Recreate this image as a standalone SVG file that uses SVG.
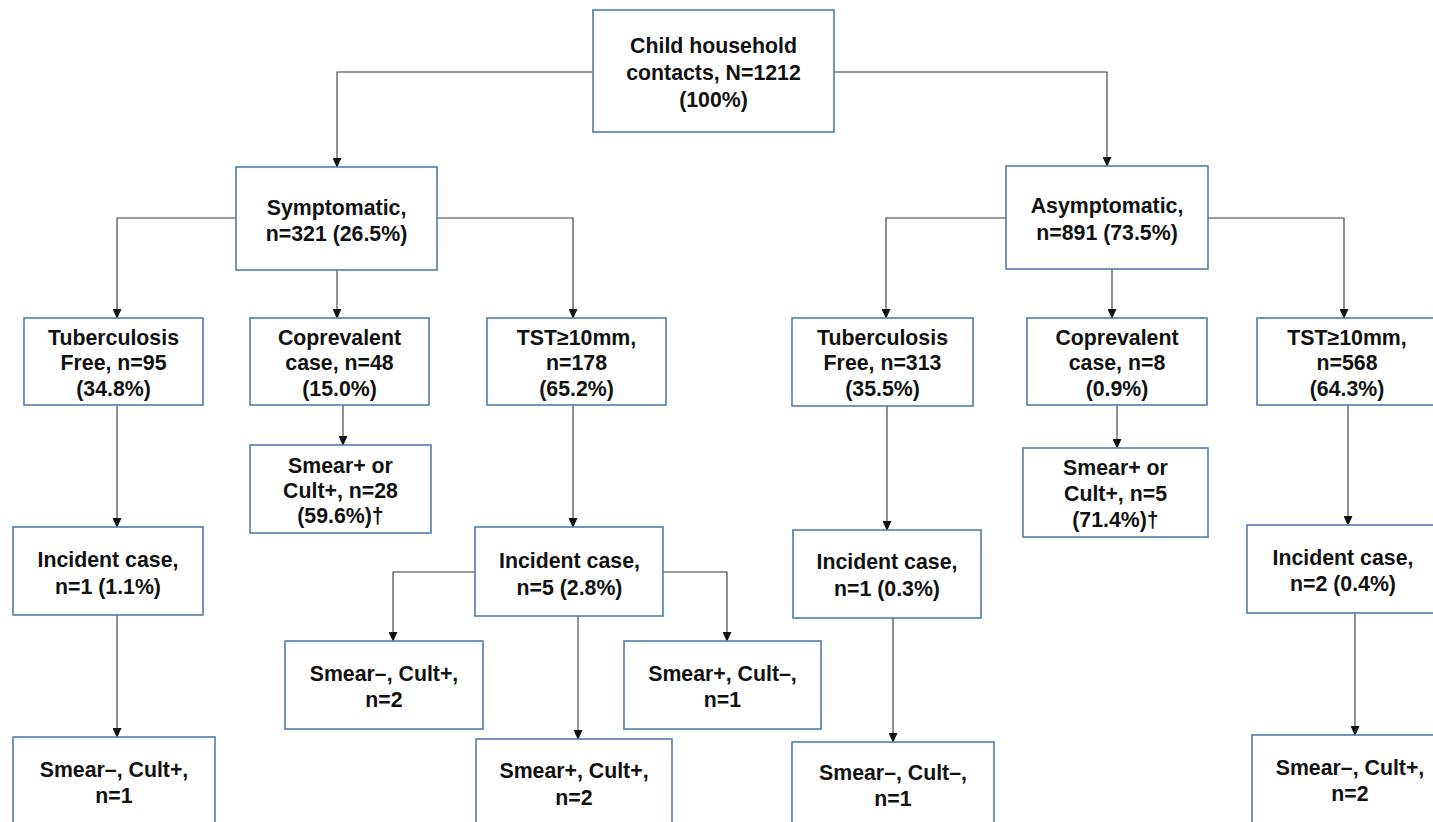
<svg xmlns="http://www.w3.org/2000/svg" width="1433" height="822" viewBox="0 0 1433 822">
<defs>
<style>
.box{fill:#fff;stroke:#4f7cac;stroke-width:1.6}
.t{font-family:"Liberation Sans",Arial,sans-serif;font-weight:bold;font-size:21.3px;fill:#111;text-anchor:middle}
.c{fill:none;stroke:#3a3a3a;stroke-width:1.1}
</style>
<marker id="ah" markerUnits="userSpaceOnUse" markerWidth="9" markerHeight="10" refX="4.5" refY="9" orient="auto-start-reverse" viewBox="0 0 9 10">
<path d="M0,0 L9,0 L4.5,9.5 z" fill="#111" transform="translate(0,0)"/>
</marker>
<marker id="a" markerUnits="userSpaceOnUse" markerWidth="10" markerHeight="9" refX="9" refY="4.5" orient="auto" viewBox="0 0 10 9">
<path d="M0,0 L10,4.5 L0,9 z" fill="#111"/>
</marker>
</defs>
<rect width="1433" height="822" fill="#fff"/>
<g id="connectors">
<path class="c" marker-end="url(#a)" d="M593,72 H337 V167"/>
<path class="c" marker-end="url(#a)" d="M834,72 H1107 V166"/>
<path class="c" marker-end="url(#a)" d="M236,218 H117 V318"/>
<path class="c" marker-end="url(#a)" d="M337,270 V318"/>
<path class="c" marker-end="url(#a)" d="M437,218 H573 V318"/>
<path class="c" marker-end="url(#a)" d="M1006,218 H886 V318"/>
<path class="c" marker-end="url(#a)" d="M1112,269 V318"/>
<path class="c" marker-end="url(#a)" d="M1208,218 H1344 V318"/>
<path class="c" marker-end="url(#a)" d="M343,405 V445"/>
<path class="c" marker-end="url(#a)" d="M117,405 V527"/>
<path class="c" marker-end="url(#a)" d="M117,615 V737"/>
<path class="c" marker-end="url(#a)" d="M573,405 V527"/>
<path class="c" marker-end="url(#a)" d="M475,572 H393 V641"/>
<path class="c" marker-end="url(#a)" d="M663,572 H727 V641"/>
<path class="c" marker-end="url(#a)" d="M578,616 V739"/>
<path class="c" marker-end="url(#a)" d="M1117,405 V448"/>
<path class="c" marker-end="url(#a)" d="M887,406 V530"/>
<path class="c" marker-end="url(#a)" d="M893,618 V742"/>
<path class="c" marker-end="url(#a)" d="M1348,405 V525"/>
<path class="c" marker-end="url(#a)" d="M1355,613 V735"/>
</g>
<g id="n-root"><rect class="box" x="593" y="10" width="241" height="122"/>
<text class="t" x="713.5" y="52.5">Child household</text><text class="t" x="713.5" y="79.5">contacts, N=1212</text><text class="t" x="713.5" y="106.5">(100%)</text></g>
<g id="n-sym"><rect class="box" x="236" y="167" width="201" height="103"/>
<text class="t" x="336.5" y="214.5">Symptomatic,</text><text class="t" x="336.5" y="240.5">n=321 (26.5%)</text></g>
<g id="n-asym"><rect class="box" x="1006" y="166" width="202" height="103"/>
<text class="t" x="1107" y="212.5">Asymptomatic,</text><text class="t" x="1107" y="239.5">n=891 (73.5%)</text></g>
<g id="n-sym-free"><rect class="box" x="24" y="318" width="179" height="87"/>
<text class="t" x="113.5" y="344.5">Tuberculosis</text><text class="t" x="113.5" y="369.5">Free, n=95</text><text class="t" x="113.5" y="395.5">(34.8%)</text></g>
<g id="n-sym-coprev"><rect class="box" x="250" y="318" width="179" height="87"/>
<text class="t" x="339.5" y="344.5">Coprevalent</text><text class="t" x="339.5" y="369.5">case, n=48</text><text class="t" x="339.5" y="395.5">(15.0%)</text></g>
<g id="n-sym-tst"><rect class="box" x="487" y="318" width="179" height="87"/>
<text class="t" x="576.5" y="344.5">TST≥10mm,</text><text class="t" x="576.5" y="369.5">n=178</text><text class="t" x="576.5" y="395.5">(65.2%)</text></g>
<g id="n-asym-free"><rect class="box" x="792" y="318" width="181" height="88"/>
<text class="t" x="882.5" y="344.5">Tuberculosis</text><text class="t" x="882.5" y="369.5">Free, n=313</text><text class="t" x="882.5" y="395.5">(35.5%)</text></g>
<g id="n-asym-coprev"><rect class="box" x="1027" y="318" width="180" height="87"/>
<text class="t" x="1117" y="344.5">Coprevalent</text><text class="t" x="1117" y="369.5">case, n=8</text><text class="t" x="1117" y="395.5">(0.9%)</text></g>
<g id="n-asym-tst"><rect class="box" x="1257" y="318" width="180" height="87"/>
<text class="t" x="1347" y="344.5">TST≥10mm,</text><text class="t" x="1347" y="369.5">n=568</text><text class="t" x="1347" y="395.5">(64.3%)</text></g>
<g id="n-sym-smear"><rect class="box" x="250" y="445" width="181" height="88"/>
<text class="t" x="340.5" y="472.5">Smear+ or</text><text class="t" x="340.5" y="498">Cult+, n=28</text><text class="t" x="340.5" y="523">(59.6%)†</text></g>
<g id="n-asym-smear"><rect class="box" x="1023" y="448" width="185" height="89"/>
<text class="t" x="1115.5" y="474.5">Smear+ or</text><text class="t" x="1115.5" y="500.5">Cult+, n=5</text><text class="t" x="1115.5" y="526.5">(71.4%)†</text></g>
<g id="n-sym-free-inc"><rect class="box" x="13" y="527" width="190" height="88"/>
<text class="t" x="108" y="566.5">Incident case,</text><text class="t" x="108" y="593.5">n=1 (1.1%)</text></g>
<g id="n-sym-tst-inc"><rect class="box" x="475" y="527" width="188" height="89"/>
<text class="t" x="569.5" y="567.5">Incident case,</text><text class="t" x="569.5" y="594.5">n=5 (2.8%)</text></g>
<g id="n-asym-free-inc"><rect class="box" x="793" y="530" width="188" height="88"/>
<text class="t" x="887" y="568.5">Incident case,</text><text class="t" x="887" y="595.5">n=1 (0.3%)</text></g>
<g id="n-asym-tst-inc"><rect class="box" x="1247" y="525" width="192" height="88"/>
<text class="t" x="1343" y="564.5">Incident case,</text><text class="t" x="1343" y="590.5">n=2 (0.4%)</text></g>
<g id="n-sym-free-res"><rect class="box" x="13" y="737" width="202" height="100"/>
<text class="t" x="114" y="776.5">Smear–, Cult+,</text><text class="t" x="114" y="802.5">n=1</text></g>
<g id="n-sym-tst-r1"><rect class="box" x="285" y="641" width="198" height="88"/>
<text class="t" x="384" y="680.5">Smear–, Cult+,</text><text class="t" x="384" y="706.5">n=2</text></g>
<g id="n-sym-tst-r2"><rect class="box" x="624" y="641" width="197" height="88"/>
<text class="t" x="722.5" y="680.5">Smear+, Cult–,</text><text class="t" x="722.5" y="706.5">n=1</text></g>
<g id="n-sym-tst-r3"><rect class="box" x="476" y="739" width="196" height="100"/>
<text class="t" x="574" y="777.5">Smear+, Cult+,</text><text class="t" x="574" y="804.5">n=2</text></g>
<g id="n-asym-free-res"><rect class="box" x="792" y="742" width="202" height="100"/>
<text class="t" x="893" y="779.5">Smear–, Cult–,</text><text class="t" x="893" y="805.5">n=1</text></g>
<g id="n-asym-tst-res"><rect class="box" x="1252" y="735" width="202" height="100"/>
<text class="t" x="1350" y="774.5">Smear–, Cult+,</text><text class="t" x="1350" y="800.5">n=2</text></g>
</svg>
